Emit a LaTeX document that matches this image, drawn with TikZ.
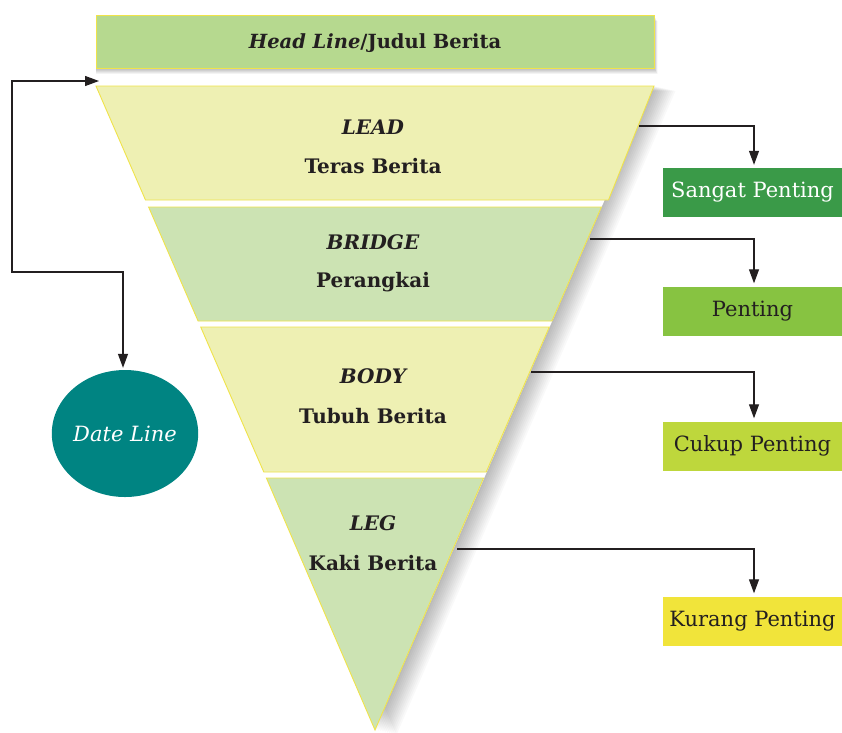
\documentclass[tikz,border=0pt]{standalone}
\usepackage{fontspec}
\setmainfont{DejaVu Serif}
\usetikzlibrary{arrows.meta,shapes.geometric}
\definecolor{hlfill}{HTML}{B6D98F}
\definecolor{yelfill}{HTML}{EEF0B3}
\definecolor{grnfill}{HTML}{CCE3B3}
\definecolor{edgeyel}{HTML}{F0E34A}
\definecolor{csangat}{HTML}{3A9A48}
\definecolor{cpenting}{HTML}{87C341}
\definecolor{ccukup}{HTML}{BED73C}
\definecolor{ckurang}{HTML}{F1E43A}
\definecolor{cdate}{HTML}{008482}
\definecolor{ink}{HTML}{231F20}
\begin{document}
\begin{tikzpicture}[x=1pt,y=-1pt,
  piece/.style={draw=edgeyel, line width=0.9pt, line join=miter},
  softshade/.style={fill=black, fill opacity=0.022},
  toplab/.style={font=\fontsize{20}{22}\selectfont\bfseries\itshape, text=ink, inner sep=0pt},
  sublab/.style={font=\fontsize{20}{22}\selectfont\bfseries, text=ink, inner sep=0pt},
  rankbox/.style={minimum width=179pt, minimum height=49pt, inner sep=0pt, anchor=center,
    font=\fontsize{21}{23}\selectfont, text=ink},
  conn/.style={draw=ink, line width=1.2pt, -{Triangle[length=14pt,width=10pt]}, shorten >=3pt},
  loopconn/.style={draw=ink, line width=1.2pt, {Triangle[length=14pt,width=10pt]}-{Triangle[length=14pt,width=10pt]}, shorten >=2pt}
]
\useasboundingbox (0,0) rectangle (842,732);
\fill[white] (0,0) rectangle (842,732);

% soft shadows
\foreach \i in {1,...,12}{
  \path[softshade] ([shift={(0,0.5*\i)}]96,15) rectangle ([shift={(0.3*\i,0.5*\i)}]654,68);
  \path[softshade] ([shift={(1.8*\i,0.4*\i)}]96,86) -- ([shift={(1.8*\i,0.4*\i)}]654,86) -- ([shift={(1.8*\i,0.4*\i)}]375,730) -- cycle;
}
\fill[white] (96,86) -- (654,86) -- (375,730) -- cycle;

% headline
\path[fill=hlfill, draw=edgeyel, line width=0.9pt] (96,15) rectangle (654,68);
\node[font=\fontsize{19.5}{21}\selectfont\bfseries, text=ink, inner sep=0pt] (headline) at (375,43)
  {\textit{Head Line}/Judul Berita};

% pieces
\path[piece, fill=yelfill] (96,86) -- (654,86) -- (608.5,200) -- (145.5,200) -- cycle;
\path[piece, fill=grnfill] (148.6,207) -- (601.4,207) -- (551.9,321) -- (198.1,321) -- cycle;
\path[piece, fill=yelfill] (200.7,327) -- (549.3,327) -- (486.2,472) -- (263.8,472) -- cycle;
\path[piece, fill=grnfill] (266.4,478) -- (483.6,478) -- (375,730) -- cycle;

% labels
\node[toplab] (leadT) at (373,127) {LEAD};
\node[sublab] (leadS) at (373,166) {Teras Berita};
\node[toplab] (bridgeT) at (373,242) {BRIDGE};
\node[sublab] (bridgeS) at (373,282) {Perangkai};
\node[toplab] (bodyT) at (373,376) {BODY};
\node[sublab] (bodyS) at (373,416) {Tubuh Berita};
\node[toplab] (legT) at (373,523) {LEG};
\node[sublab] (legS) at (373,563) {Kaki Berita};

% rank boxes
\node[rankbox, fill=csangat, text=white] (sangat) at (752.5,192.5) {Sangat Penting};
\node[rankbox, fill=cpenting] (penting) at (752.5,311) {Penting};
\node[rankbox, fill=ccukup] (cukup) at (752.5,446) {Cukup Penting};
\node[rankbox, fill=ckurang] (kurang) at (752.5,621) {Kurang Penting};

% connector start points
\coordinate (leadR) at (639,126);
\coordinate (bridgeR) at (590,239);
\coordinate (bodyR) at (531,372);
\coordinate (legR) at (457,549);

\draw[conn] (leadR) -| ([xshift=1.5pt]sangat.north);
\draw[conn] (bridgeR) -| ([xshift=1.5pt]penting.north);
\draw[conn] (bodyR) -| ([xshift=1.5pt]cukup.north);
\draw[conn] (legR) -| ([xshift=1.5pt]kurang.north);

% date line
\node[ellipse, fill=cdate, minimum width=146pt, minimum height=127pt, inner sep=0pt,
  font=\fontsize{21}{23}\selectfont\itshape, text=white] (date) at (125,433.5) {Date Line};
\coordinate (hlIn) at (99,81);
\coordinate (loopTL) at (12,81);
\coordinate (loopBL) at (12,272);
\draw[loopconn] (hlIn) -- (loopTL) -- (loopBL) -| ([xshift=-2pt]date.north);
\end{tikzpicture}
\end{document}
